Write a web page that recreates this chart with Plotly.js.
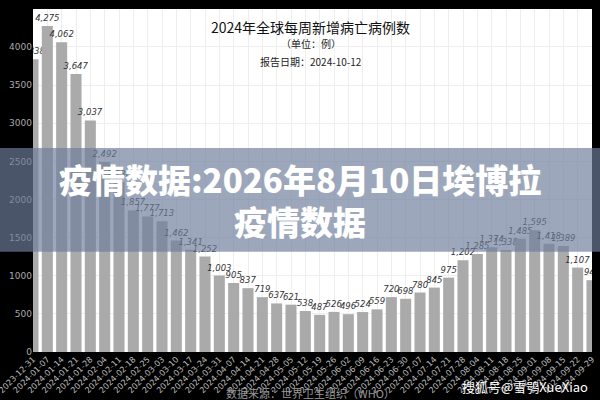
<!DOCTYPE html>
<html>
<head>
<meta charset="utf-8">
<script src="https://cdn.plot.ly/plotly-3.0.1.min.js"></script>
<style>
  html, body { margin: 0; padding: 0; background: #000; }
  #chart { width: 600px; height: 400px; }
</style>
</head>
<body>
<div id="chart"></div>
<script>
// weekly new deaths, 2024 (WHO)
const weeks = [
    '2023-12-31', '2024-01-07', '2024-01-14', '2024-01-21', '2024-01-28',
    '2024-02-04', '2024-02-11', '2024-02-18', '2024-02-25', '2024-03-03',
    '2024-03-10', '2024-03-17', '2024-03-24', '2024-03-31', '2024-04-07',
    '2024-04-14', '2024-04-21', '2024-04-28', '2024-05-05', '2024-05-12',
    '2024-05-19', '2024-05-26', '2024-06-02', '2024-06-09', '2024-06-16',
    '2024-06-23', '2024-06-30', '2024-07-07', '2024-07-14', '2024-07-21',
    '2024-07-28', '2024-08-04', '2024-08-11', '2024-08-18', '2024-08-25',
    '2024-09-01', '2024-09-08', '2024-09-15', '2024-09-22', '2024-09-29'
];
const deaths = [
    3838, 4275, 4062, 3647, 3037, 2492, 2230, 1857, 1777, 1713,
    1462, 1341, 1252, 1003, 905, 837, 719, 637, 621, 538,
    487, 526, 496, 524, 559, 720, 698, 780, 845, 975,
    1202, 1285, 1374, 1338, 1485, 1595, 1418, 1389, 1107, 942
];
const yTicks = [0, 500, 1000, 1500, 2000, 2500, 3000, 3500, 4000];

const titleText = '2024年全球每周新增病亡病例数';
const unitText = '（单位：例）';
const dateText = '报告日期：2024-10-12';
const sourceText = '数据来源：世界卫生组织（WHO）';
const bannerLines = ['疫情数据:2026年8月10日埃博拉', '疫情数据'];
const watermark = '搜狐号@雪鸮XueXiao';

const CJK = '"Noto Sans CJK SC", "DejaVu Sans", sans-serif';

const trace = {
    x: weeks, y: deaths, type: 'bar',
    marker: { color: '#aaaaaa' },
    text: deaths.map(v => v.toLocaleString('en-US')),
    textposition: 'outside',
    constraintext: 'none',
    cliponaxis: true,
    textfont: { family: '"DejaVu Sans", sans-serif', size: 8.5, color: '#333', style: 'italic' },
    hoverinfo: 'none'
};

function note(text, x, y, size, color, extra) {
    return Object.assign({
        text, x, y, xref: 'paper', yref: 'paper',
        xanchor: 'center', yanchor: 'middle', showarrow: false,
        font: { family: CJK, size, color }
    }, extra || {});
}

const bannerFont = { family: CJK, size: 33, color: '#fff', weight: 900 };

const layout = {
    width: 600, height: 400,
    margin: { l: 33, r: 8, t: 9, b: 48 },
    paper_bgcolor: '#000', plot_bgcolor: '#fff',
    bargap: 0.23,
    showlegend: false,
    xaxis: {
        type: 'category', range: [0, 39],
        tickangle: -45,
        tickfont: { family: '"DejaVu Sans", sans-serif', size: 8.2, color: '#bbb' },
        showgrid: true, gridcolor: '#eeeeee', gridwidth: 1,
        ticks: '', showline: false, zeroline: false
    },
    yaxis: {
        range: [0, 4498],
        tickvals: yTicks,
        tickfont: { family: '"DejaVu Sans", sans-serif', size: 9, color: '#aaa' },
        showgrid: true, gridcolor: '#eeeeee', gridwidth: 1,
        ticks: '', zeroline: false, showline: false
    },
    shapes: [{
        type: 'rect', xref: 'paper', yref: 'paper', layer: 'above',
        x0: -0.06, x1: 1.02, y0: 0.292, y1: 0.595,
        fillcolor: 'rgba(110,125,155,0.68)', line: { width: 0 }
    }],
    annotations: [
        note(titleText, 0.497, 0.947, 14, '#111'),
        note(unitText, 0.497, 0.898, 10, '#222'),
        note(dateText, 0.497, 0.848, 10, '#222'),
        note(bannerLines[0], 0.478, 0.503, 33, '#fff', { font: bannerFont }),
        note(bannerLines[1], 0.478, 0.382, 33, '#fff', { font: bannerFont }),
        note(sourceText, 0.497, -0.12, 11, '#999'),
        note(watermark, 0.88, -0.102, 13, '#fff')
    ]
};

Plotly.newPlot('chart', [trace], layout, { staticPlot: true, displayModeBar: false });
</script>
</body>
</html>
